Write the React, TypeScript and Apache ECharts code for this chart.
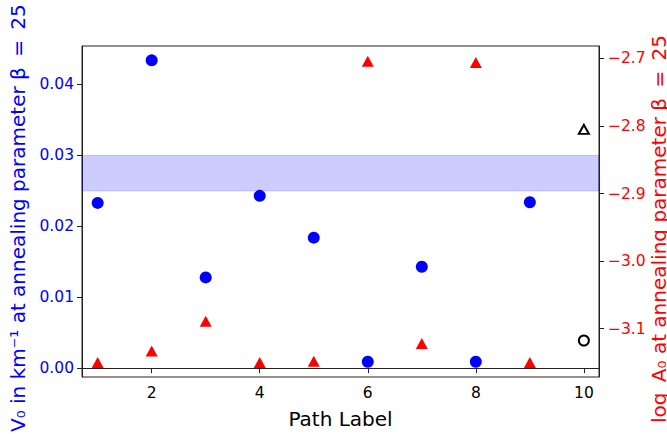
import React, { useEffect, useRef } from "react";
import * as echarts from "echarts";

const pathLabels = [1, 2, 3, 4, 5, 6, 7, 8, 9];
const v0Values = [0.0233, 0.0434, 0.0128, 0.0243, 0.0184, 0.0009, 0.0143, 0.0009, 0.0234];
const logA0Values = [-3.150, -3.133, -3.089, -3.150, -3.148, -2.704, -3.122, -2.706, -3.150];
const trueLabel = 10;
const trueV0 = 0.0039;
const trueLogA0 = -2.805;
const bandRange = [0.025, 0.03];
const xTicks = [2, 4, 6, 8, 10];
const leftTicks = [0, 0.01, 0.02, 0.03, 0.04];
const rightTicks = [-3.1, -3.0, -2.9, -2.8, -2.7];

const FONT = "DejaVu Sans";

export default function App() {
  const ref = useRef<HTMLDivElement>(null);
  useEffect(() => {
    if (!ref.current) return;
    const chart = echarts.init(ref.current, null, { renderer: "svg" });
    const axisLine = { show: true, lineStyle: { color: "#222", width: 1 } };
    const axisTick = { show: true, length: 5, lineStyle: { color: "#222", width: 1 } };
    chart.setOption({
      animation: false,
      backgroundColor: "#fff",
      grid: {
        left: 82,
        top: 46,
        right: 68,
        bottom: 52,
        show: true,
        borderColor: "#222",
        borderWidth: 1,
        containLabel: false,
      },
      xAxis: {
        type: "value",
        min: 0.71,
        max: 10.28,
        axisLine,
        axisTick: { ...axisTick, customValues: xTicks },
        axisLabel: {
          customValues: xTicks,
          color: "#000",
          fontFamily: FONT,
          fontSize: 15.5,
          margin: 8,
        },
        splitLine: { show: false },
        name: "Path Label",
        nameLocation: "middle",
        nameGap: 32,
        nameTextStyle: { fontFamily: FONT, fontSize: 20, color: "#000" },
      },
      yAxis: [
        {
          type: "value",
          position: "left",
          min: -0.00124,
          max: 0.04542,
          axisLine,
          axisTick: { ...axisTick, customValues: leftTicks },
          axisLabel: {
            customValues: leftTicks,
            color: "#0000ff",
            fontFamily: FONT,
            fontSize: 15.5,
            margin: 8,
            formatter: (v: number) => v.toFixed(2),
          },
          splitLine: { show: false },
        },
        {
          type: "value",
          position: "right",
          min: -3.1715,
          max: -2.6815,
          axisLine,
          axisTick: { ...axisTick, customValues: rightTicks },
          axisLabel: {
            customValues: rightTicks,
            color: "#ff0000",
            fontFamily: FONT,
            fontSize: 15.5,
            margin: 9,
            formatter: (v: number) => v.toFixed(1).replace("-", "\u2212"),
          },
          splitLine: { show: false },
        },
      ],
      graphic: [
        {
          type: "text",
          x: 18,
          y: 432,
          rotation: Math.PI / 2,
          style: {
            text: "V\u2080 in km\u207B\u00B9 at annealing parameter \u03B2\u2009 = \u200925",
            fill: "#0000ff",
            font: `20px '${FONT}'`,
            align: "left",
            verticalAlign: "middle",
          },
        },
        {
          type: "text",
          x: 659,
          y: 229,
          rotation: Math.PI / 2,
          style: {
            text: "log\u2009 A\u2080 at annealing parameter \u03B2\u2009 = \u200925",
            fill: "#ff0000",
            font: `20px '${FONT}'`,
            align: "center",
            verticalAlign: "middle",
          },
        },
      ],
      series: [
        {
          name: "band",
          type: "scatter",
          yAxisIndex: 0,
          data: [],
          markArea: {
            silent: true,
            itemStyle: {
              color: "rgba(0,0,255,0.2)",
              borderColor: "rgba(0,0,255,0.2)",
              borderWidth: 1,
            },
            data: [[{ yAxis: bandRange[0] }, { yAxis: bandRange[1] }]],
          },
        },
        {
          name: "V0",
          type: "scatter",
          yAxisIndex: 0,
          symbol: "circle",
          symbolSize: 12,
          itemStyle: { color: "#0000ff", opacity: 1 },
          data: pathLabels.map((x, i) => [x, v0Values[i]]),
        },
        {
          name: "logA0",
          type: "scatter",
          yAxisIndex: 1,
          symbol: "triangle",
          symbolSize: [12, 11],
          itemStyle: { color: "#ff0000", opacity: 1 },
          data: pathLabels.map((x, i) => [x, logA0Values[i]]),
        },
        {
          name: "trueV0",
          type: "scatter",
          yAxisIndex: 0,
          symbol: "circle",
          symbolSize: 10,
          itemStyle: { color: "rgba(0,0,0,0)", borderColor: "#000", borderWidth: 2, opacity: 1 },
          data: [[trueLabel, trueV0]],
        },
        {
          name: "trueLogA0",
          type: "scatter",
          yAxisIndex: 1,
          symbol: "triangle",
          symbolSize: [10, 9],
          itemStyle: { color: "rgba(0,0,0,0)", borderColor: "#000", borderWidth: 2, opacity: 1 },
          data: [[trueLabel, trueLogA0]],
        },
      ],
    });
    return () => chart.dispose();
  }, []);
  return (
    <div
      ref={ref}
      style={{ position: "fixed", left: 0, top: 0, width: 667, height: 434 }}
    />
  );
}
